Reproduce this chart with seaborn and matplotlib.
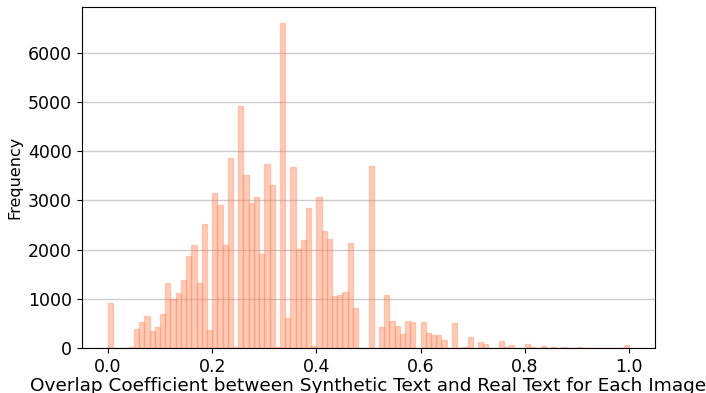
import numpy as np
import pandas as pd
import matplotlib
matplotlib.use('Agg')
import matplotlib.pyplot as plt
import seaborn as sns

# histogram counts, 100 bins of width 0.01 on [0, 1]
bin_edges = np.linspace(0, 1, 101)
counts = [
    920, 0, 0, 0, 30, 385, 533, 655, 351, 432,
    682, 1318, 994, 1108, 1385, 1872, 2089, 1331, 2521, 371,
    3144, 2900, 2101, 3860, 30, 4915, 3509, 2953, 3075, 1913,
    3745, 3306, 30, 6598, 609, 3671, 2014, 2197, 2846, 45,
    3063, 2379, 2211, 1061, 1075, 1142, 2130, 817, 0, 0,
    3695, 0, 430, 1081, 554, 450, 287, 554, 527, 0,
    527, 296, 256, 256, 168, 0, 513, 0, 20, 229,
    0, 128, 75, 0, 0, 148, 20, 70, 0, 0,
    72, 25, 0, 45, 0, 25, 0, 18, 0, 0,
    18, 0, 0, 0, 0, 0, 0, 0, 0, 65,
]

df = pd.DataFrame({
    'overlap': (bin_edges[:-1] + bin_edges[1:]) / 2,
    'count': counts,
})

fig, ax = plt.subplots(figsize=(7.06, 3.93), dpi=100)
fig.subplots_adjust(left=0.116, right=0.928, top=0.982, bottom=0.1145)

sns.histplot(data=df, x='overlap', weights='count', bins=100, binrange=(0, 1),
             color='coral', alpha=0.4, edgecolor=(1.0, 0.5, 0.31, 0.35),
             linewidth=1, ax=ax)

ax.set_axisbelow(True)
ax.yaxis.grid(True, color='#cccccc', linewidth=1)
ax.set_xlabel('Overlap Coefficient between Synthetic Text and Real Text for Each Image',
              fontsize=13.3, labelpad=1)
ax.set_ylabel('Frequency', fontsize=11.5)
ax.tick_params(labelsize=12.5)

plt.savefig('out.png', dpi=100)
